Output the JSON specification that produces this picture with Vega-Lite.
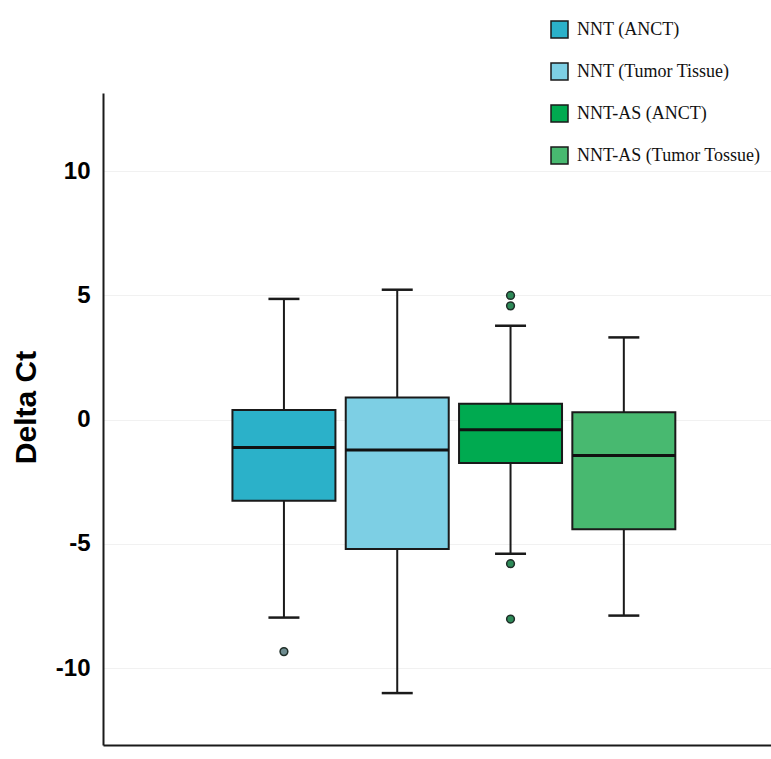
{
  "$schema": "https://vega.github.io/schema/vega-lite/v6.json",
  "autosize": {"type": "none"},
  "width": 668,
  "height": 652,
  "padding": {"left": 103, "top": 93, "right": 0, "bottom": 14},
  "background": "white",
  "config": {"view": {"stroke": null}},
  "datasets": {
    "boxes": [
      {"group": "NNT (ANCT)", "min": -7.97, "q1": -3.27, "median": -1.12, "q3": 0.39, "max": 4.86},
      {"group": "NNT (Tumor Tissue)", "min": -11.01, "q1": -5.21, "median": -1.22, "q3": 0.89, "max": 5.23},
      {"group": "NNT-AS (ANCT)", "min": -5.40, "q1": -1.75, "median": -0.41, "q3": 0.64, "max": 3.78},
      {"group": "NNT-AS (Tumor Tossue)", "min": -7.89, "q1": -4.41, "median": -1.44, "q3": 0.30, "max": 3.31}
    ],
    "outliers": [
      {"group": "NNT (ANCT)", "value": -9.34},
      {"group": "NNT-AS (ANCT)", "value": 5.0},
      {"group": "NNT-AS (ANCT)", "value": 4.58},
      {"group": "NNT-AS (ANCT)", "value": -5.8},
      {"group": "NNT-AS (ANCT)", "value": -8.03}
    ]
  },
  "encoding": {
    "x": {
      "field": "group",
      "type": "nominal",
      "sort": null,
      "scale": {"paddingInner": 0.091, "paddingOuter": 0.9935, "align": 0.575},
      "axis": {
        "title": null,
        "labels": false,
        "ticks": false,
        "grid": false,
        "domain": true,
        "domainColor": "#1a1a1a",
        "domainWidth": 2
      }
    }
  },
  "layer": [
    {
      "data": {"name": "boxes"},
      "mark": {"type": "rule", "color": "#1a1a1a", "strokeWidth": 2},
      "encoding": {
        "y": {
          "field": "min",
          "type": "quantitative",
          "scale": {"domain": [-13.1, 13.15], "nice": false, "zero": false},
          "axis": {
            "title": "Delta Ct",
            "titleFont": "Liberation Sans",
            "titleFontSize": 30,
            "titleFontWeight": "bold",
            "titleColor": "black",
            "titlePadding": 14,
            "titleY": 314,
            "values": [-10, -5, 0, 5, 10],
            "labelExpr": "datum.value < 0 ? '-' + abs(datum.value) : '' + datum.value",
            "labelFont": "Liberation Sans",
            "labelFontSize": 24,
            "labelFontWeight": "bold",
            "labelColor": "black",
            "labelPadding": 13,
            "ticks": false,
            "domain": true,
            "domainColor": "#1a1a1a",
            "domainWidth": 2,
            "grid": true,
            "gridColor": "#f1f1f1",
            "gridWidth": 1
          }
        },
        "y2": {"field": "max"}
      }
    },
    {
      "data": {"name": "boxes"},
      "mark": {"type": "tick", "color": "#1a1a1a", "size": 31, "thickness": 2.5, "opacity": 1},
      "encoding": {"y": {"field": "min", "type": "quantitative"}}
    },
    {
      "data": {"name": "boxes"},
      "mark": {"type": "tick", "color": "#1a1a1a", "size": 31, "thickness": 2.5, "opacity": 1},
      "encoding": {"y": {"field": "max", "type": "quantitative"}}
    },
    {
      "data": {"name": "boxes"},
      "mark": {"type": "bar", "stroke": "#1a1a1a", "strokeWidth": 2, "opacity": 1},
      "encoding": {
        "y": {"field": "q1", "type": "quantitative"},
        "y2": {"field": "q3"},
        "color": {
          "field": "group",
          "type": "nominal",
          "sort": null,
          "scale": {
            "domain": ["NNT (ANCT)", "NNT (Tumor Tissue)", "NNT-AS (ANCT)", "NNT-AS (Tumor Tossue)"],
            "range": ["#2bb1c9", "#7dcfe4", "#00aa50", "#48b970"]
          },
          "legend": {
            "orient": "none",
            "legendX": 447,
            "legendY": -73,
            "title": null,
            "symbolType": "square",
            "symbolSize": 289,
            "symbolStrokeColor": "#1a1a1a",
            "symbolStrokeWidth": 1.5,
            "symbolOpacity": 1,
            "labelFont": "Liberation Serif",
            "labelFontSize": 18,
            "labelColor": "#111111",
            "labelOffset": 8,
            "rowPadding": 19,
            "labelLimit": 300
          }
        }
      }
    },
    {
      "data": {"name": "boxes"},
      "mark": {"type": "tick", "color": "#111111", "size": 103, "thickness": 3, "opacity": 1},
      "encoding": {"y": {"field": "median", "type": "quantitative"}}
    },
    {
      "data": {"name": "outliers"},
      "mark": {"type": "point", "shape": "circle", "filled": true, "size": 60, "stroke": "#1f2e28", "strokeWidth": 1.5, "opacity": 1},
      "encoding": {
        "y": {"field": "value", "type": "quantitative"},
        "fill": {
          "field": "group",
          "type": "nominal",
          "scale": {"domain": ["NNT (ANCT)", "NNT-AS (ANCT)"], "range": ["#6e8c90", "#2e8a58"]},
          "legend": null
        }
      }
    }
  ]
}
